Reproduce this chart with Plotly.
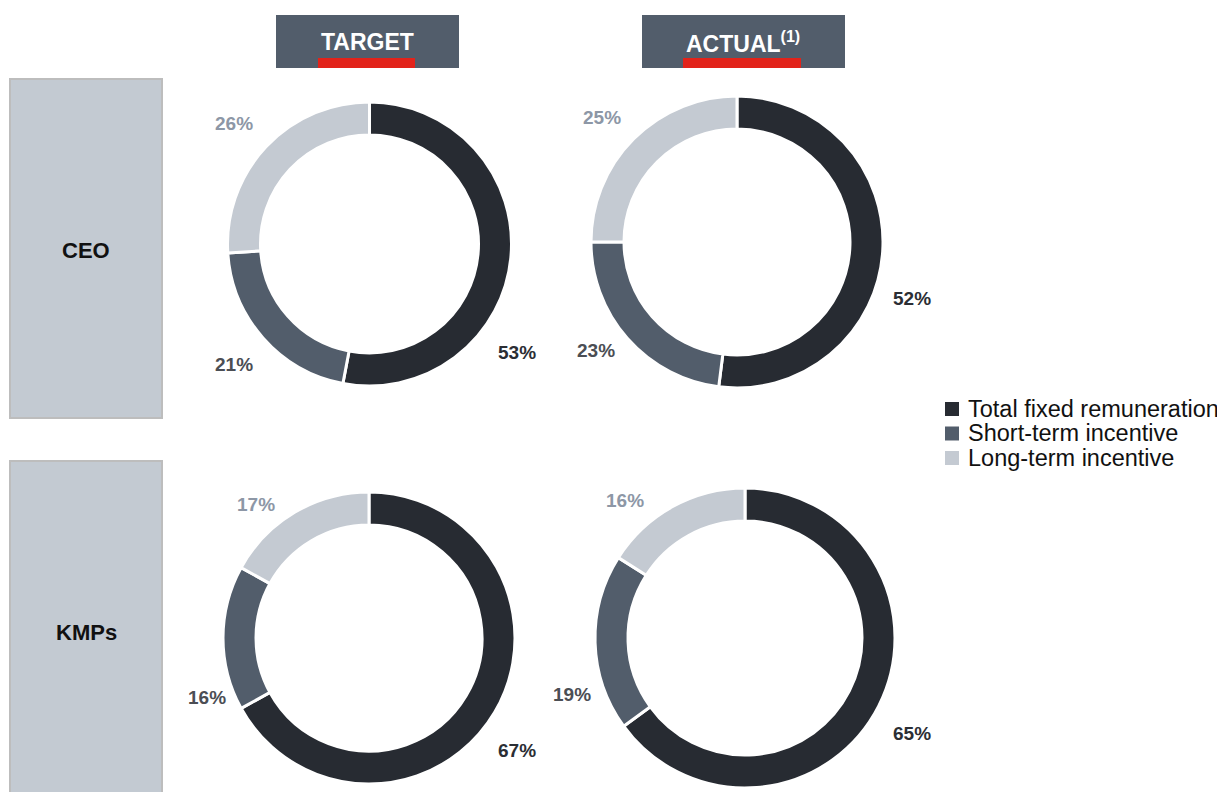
import plotly.graph_objects as go

W, H = 1225, 792
OFF = 8  # the page body adds an 8px margin around the figure

# data
components = ["Total fixed remuneration", "Short-term incentive", "Long-term incentive"]
ceo_target = [53, 21, 26]
ceo_actual = [52, 23, 25]
kmp_target = [67, 16, 17]
kmp_actual = [65, 19, 16]
column_titles = ["TARGET", "ACTUAL<sup>(1)</sup>"]
row_titles = ["CEO", "KMPs"]

colors = ["#272b32", "#525d6b", "#c4cad2"]
label_colors = ["#2b2e34", "#4b4e54", "#8d97a6"]
FONT = "Arial, 'Liberation Sans', sans-serif"


def px(x):
    return (x - OFF) / W


def py(y):
    return 1 - (y - OFF) / H


def label(x, y, text, size, color, xanchor="center"):
    return dict(x=px(x), y=py(y), xref="paper", yref="paper",
                xanchor=xanchor, yanchor="middle", text=text, showarrow=False,
                font=dict(family=FONT, size=size, color=color))


# donut placement in pixels: center x, center y, outer radius, label spots
donuts = [
    (ceo_target, 369.5, 244, 142, [(517, 353), (234, 365), (234, 123)]),
    (ceo_actual, 737, 242, 146, [(912, 298), (596, 350), (602, 118)]),
    (kmp_target, 369, 638, 146, [(517, 750), (207, 697), (256, 505)]),
    (kmp_actual, 745, 638, 150, [(912, 733), (572, 694), (625, 500)]),
]

fig = go.Figure()
annotations = []

for values, cx, cy, r, spots in donuts:
    fig.add_trace(
        go.Pie(
            labels=components,
            values=values,
            sort=False,
            direction="clockwise",
            rotation=0,
            hole=(r - 33) / r,
            textinfo="none",
            marker=dict(colors=colors, line=dict(color="white", width=3)),
            domain=dict(x=[px(cx - r), px(cx + r)], y=[py(cy + r), py(cy - r)]),
            showlegend=False,
        )
    )
    for v, (lx, ly), c in zip(values, spots, label_colors):
        annotations.append(label(lx, ly, f"<b>{v}%</b>", 19, c))

shapes = []

# column headers
headers = [(276, 459, 318, 415, 367), (642, 845, 683, 801, 743)]
for title, (x0, x1, r0, r1, tx) in zip(column_titles, headers):
    shapes.append(dict(type="rect", xref="paper", yref="paper",
                       x0=px(x0), x1=px(x1), y0=py(68), y1=py(15),
                       fillcolor="#525d6b", line=dict(width=0)))
    shapes.append(dict(type="rect", xref="paper", yref="paper",
                       x0=px(r0), x1=px(r1), y0=py(68), y1=py(58),
                       fillcolor="#e2231a", line=dict(width=0)))
    annotations.append(label(tx, 42, f"<b>{title}</b>", 23, "white"))

# row headers
rows = [(79, 418, 250), (461, 800, 632)]
for title, (y0, y1, ty) in zip(row_titles, rows):
    shapes.append(dict(type="rect", xref="paper", yref="paper",
                       x0=px(10), x1=px(162), y0=py(y1), y1=py(y0),
                       fillcolor="#c3cad2", line=dict(color="#bdbdbd", width=2)))
    annotations.append(label(86, ty, f"<b>{title}</b>", 22, "#111111"))

# legend
for i, (name, c) in enumerate(zip(components, colors)):
    yc = 409 + i * 24.5
    shapes.append(dict(type="rect", xref="paper", yref="paper",
                       x0=px(945), x1=px(959), y0=py(yc + 7), y1=py(yc - 7),
                       fillcolor=c, line=dict(width=0)))
    annotations.append(label(966, yc, name, 23.5, "#111111", xanchor="left"))

fig.update_layout(
    width=W,
    height=H,
    autosize=False,
    margin=dict(l=0, r=0, t=0, b=0),
    paper_bgcolor="white",
    plot_bgcolor="white",
    shapes=shapes,
    annotations=annotations,
)

fig.write_html("out.html")
